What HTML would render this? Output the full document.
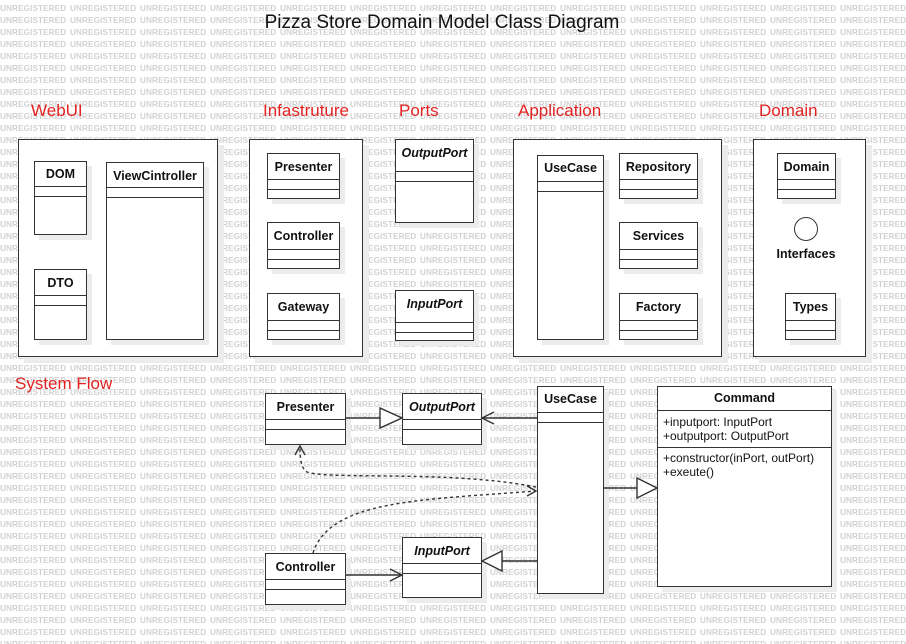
<!DOCTYPE html>
<html><head><meta charset="utf-8"><style>
body{margin:0;width:906px;height:644px;overflow:hidden;background:#fff;position:relative;font-family:"Liberation Sans",sans-serif}
#wm{position:absolute;left:0;top:0;width:906px;height:644px;overflow:hidden}
#wm span{position:absolute;font:bold 8.2px "Liberation Sans",sans-serif;letter-spacing:0.1px;color:#d2d2d2;white-space:nowrap}
.b{position:absolute;border:1.3px solid #333;background:#fff;box-shadow:6px 6px 0 #ececec;box-sizing:border-box}
.c{position:absolute;border:1.3px solid #333;background:#fff;box-sizing:border-box;box-shadow:5px 5px 0 #ececec}
.c .h{font-weight:bold;font-size:12.5px;text-align:center;color:#111;border-bottom:1.3px solid #333;box-sizing:border-box}
.c .s{border-bottom:1.3px solid #333;height:9px}
.i{font-style:italic}
.t{position:absolute;color:#e42222;font-size:17px}
</style></head><body>
<div id="wm"></div>
<script>
var w=document.getElementById('wm'),h='';
for(var y=4;y<644;y+=12)for(var x=0;x<906;x+=70)h+='<span style="left:'+x+'px;top:'+y+'px">UNREGISTERED</span>';
w.innerHTML=h;
</script>
<div style="position:absolute;left:0;width:884px;top:12px;text-align:center;font-size:19px;color:#111">Pizza Store Domain Model Class Diagram</div>
<div class="t" style="left:31px;top:101px">WebUI</div>
<div class="t" style="left:263px;top:101px">Infastruture</div>
<div class="t" style="left:399px;top:101px">Ports</div>
<div class="t" style="left:518px;top:101px">Application</div>
<div class="t" style="left:759px;top:101px">Domain</div>
<div class="t" style="left:15px;top:374px">System Flow</div>

<div class="b" style="left:18px;top:139px;width:200px;height:218px"></div>
<div class="b" style="left:249px;top:139px;width:114px;height:218px"></div>
<div class="b" style="left:513px;top:139px;width:209px;height:218px"></div>
<div class="b" style="left:753px;top:139px;width:113px;height:218px"></div>

<div class="c" style="left:34px;top:161px;width:53px;height:74px"><div class="h" style="height:25px;line-height:24px">DOM</div><div class="s"></div></div>
<div class="c" style="left:34px;top:269px;width:53px;height:71px"><div class="h" style="height:26px;line-height:26px">DTO</div><div class="s"></div></div>
<div class="c" style="left:106px;top:162px;width:98px;height:178px"><div class="h" style="height:25px;line-height:26px">ViewCintroller</div><div class="s"></div></div>
<div class="c" style="left:267px;top:153px;width:73px;height:46px"><div class="h" style="height:26px;line-height:26px">Presenter</div><div class="s"></div></div>
<div class="c" style="left:267px;top:222px;width:73px;height:47px"><div class="h" style="height:27px;line-height:27px">Controller</div><div class="s"></div></div>
<div class="c" style="left:267px;top:293px;width:73px;height:47px"><div class="h" style="height:27px;line-height:27px">Gateway</div><div class="s"></div></div>
<div class="c" style="left:395px;top:139px;width:79px;height:84px"><div class="h i" style="height:32px;line-height:26px">OutputPort</div><div class="s"></div></div>
<div class="c" style="left:395px;top:290px;width:79px;height:51px"><div class="h i" style="height:32px;line-height:26px">InputPort</div><div class="s"></div></div>
<div class="c" style="left:537px;top:155px;width:67px;height:185px"><div class="h" style="height:26px;line-height:24px">UseCase</div><div class="s"></div></div>
<div class="c" style="left:619px;top:153px;width:79px;height:46px"><div class="h" style="height:26px;line-height:26px">Repository</div><div class="s"></div></div>
<div class="c" style="left:619px;top:222px;width:79px;height:47px"><div class="h" style="height:27px;line-height:27px">Services</div><div class="s"></div></div>
<div class="c" style="left:619px;top:293px;width:79px;height:47px"><div class="h" style="height:27px;line-height:27px">Factory</div><div class="s"></div></div>
<div class="c" style="left:777px;top:153px;width:59px;height:46px"><div class="h" style="height:26px;line-height:26px">Domain</div><div class="s"></div></div>
<div class="c" style="left:785px;top:293px;width:51px;height:47px"><div class="h" style="height:27px;line-height:27px">Types</div><div class="s"></div></div>
<div style="position:absolute;left:794px;top:217px;width:24px;height:24px;border:1.3px solid #333;border-radius:50%;box-sizing:border-box;background:#fff"></div>
<div style="position:absolute;left:760px;top:247px;width:92px;text-align:center;font-weight:bold;font-size:12.5px;color:#111">Interfaces</div>

<div class="c" style="left:265px;top:393px;width:81px;height:52px"><div class="h" style="height:26px;line-height:26px">Presenter</div><div class="s"></div></div>
<div class="c" style="left:402px;top:393px;width:80px;height:52px"><div class="h i" style="height:26px;line-height:26px">OutputPort</div><div class="s"></div></div>
<div class="c" style="left:537px;top:386px;width:67px;height:208px"><div class="h" style="height:26px;line-height:24px">UseCase</div><div class="s"></div></div>
<div class="c" style="left:657px;top:386px;width:175px;height:201px;font-size:12px;color:#111"><div class="h" style="height:24px;line-height:22px">Command</div><div style="padding:4px 5px;line-height:14px;border-bottom:1.3px solid #333">+inputport: InputPort<br>+outputport: OutputPort</div><div style="padding:3px 5px;line-height:14px">+constructor(inPort, outPort)<br>+exeute()</div></div>
<div class="c" style="left:265px;top:553px;width:81px;height:52px"><div class="h" style="height:26px;line-height:26px">Controller</div><div class="s"></div></div>
<div class="c" style="left:402px;top:537px;width:80px;height:61px"><div class="h i" style="height:26px;line-height:26px">InputPort</div><div class="s"></div></div>

<svg style="position:absolute;left:0;top:0" width="906" height="644">
<g stroke="#333" stroke-width="1.4" fill="none">
<line x1="346" y1="418" x2="380" y2="418"/><polygon points="380,408 402,418 380,428" fill="#fff"/>
<line x1="537" y1="418" x2="482" y2="418"/><polyline points="494,412 482,418 494,424"/>
<line x1="604" y1="488" x2="637" y2="488"/><polygon points="637,478 657,488 637,498" fill="#fff"/>
<line x1="537" y1="561" x2="502" y2="561"/><polygon points="502,551 482,561 502,571" fill="#fff"/>
<line x1="346" y1="575" x2="402" y2="575"/><polyline points="390,569 402,575 390,581"/>
<path d="M536,487 C450,470 330,480 307,472 C300,468 300,455 300,446" stroke-dasharray="3,3"/>
<polyline points="295,455 300,446 305,455"/>
<path d="M313,553 C330,500 420,500 536,491" stroke-dasharray="3,3"/>
<polyline points="527,486 536,491 527,496"/>
</g></svg>
</body></html>
